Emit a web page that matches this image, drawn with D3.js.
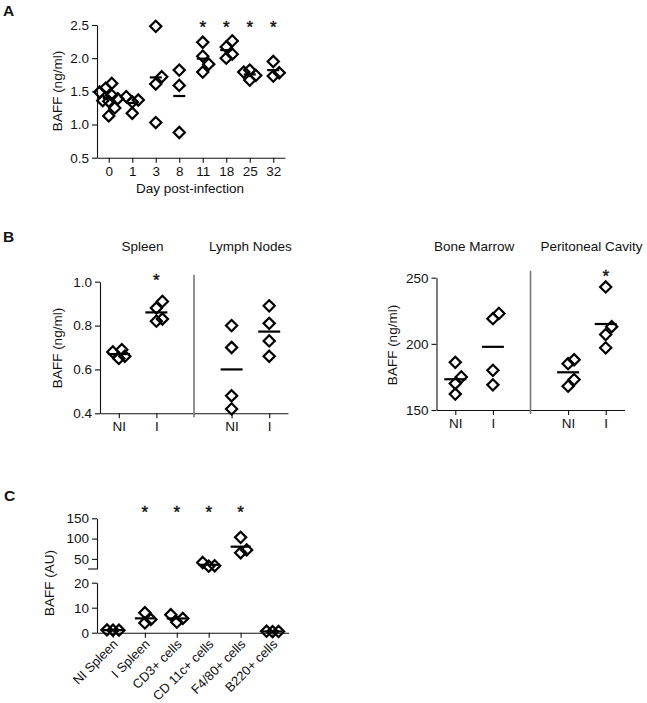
<!DOCTYPE html>
<html><head><meta charset="utf-8">
<script src="https://cdn.jsdelivr.net/npm/d3@7"></script>
<style>
body{margin:0;background:#fff;}
svg text{font-family:Arial,"Liberation Sans",sans-serif;fill:#111;}
</style></head><body>
<svg id="chart" width="647" height="703"></svg>
<script>
// ---------- DATA ----------
// Panel A: BAFF in serum over days post-infection
const daysA = ["0","1","3","8","11","18","25","32"];
const valuesA = [
  [1.36, 1.35, 1.39, 1.49, 1.62, 1.55, 1.44, 1.25, 1.13],
  [1.37, 1.42, 1.34, 1.17],
  [2.48, 1.72, 1.61, 1.03],
  [1.82, 1.59, 0.88],
  [2.24, 2.03, 1.91, 1.79],
  [2.17, 2.26, 2.06, 2.00],
  [1.79, 1.82, 1.74, 1.67],
  [1.95, 1.78, 1.73]
];
const sigA = ["11","18","25","32"];
const ticksA = [0.5, 1.0, 1.5, 2.0, 2.5];

// Panel B: organs, NI vs I
const groupsB = ["NI","I"];
const spleenNI = [0.68, 0.69, 0.66, 0.65];
const spleenI  = [0.91, 0.88, 0.83, 0.82];
const lymphNI  = [0.80, 0.70, 0.48, 0.42];
const lymphI   = [0.89, 0.81, 0.73, 0.66];
const ticksBL  = [0.4, 0.6, 0.8, 1.0];
const marrowNI = [186, 175, 170, 162];
const marrowI  = [219, 223, 180, 169];
const peritNI  = [188, 185, 173, 168];
const peritI   = [243, 213, 207, 197];
const ticksBR  = [150, 200, 250];
const titlesB  = ["Spleen","Lymph Nodes","Bone Marrow","Peritoneal Cavity"];

// Panel C: cell populations
const cellsC = ["NI Spleen","I Spleen","CD3+ cells","CD 11c+ cells","F4/80+ cells","B220+ cells"];
const valuesC = [
  [1.0, 1.1, 1.0],
  [8.0, 3.9, 5.3],
  [7.2, 4.2, 5.7],
  [41, 33, 32],
  [103, 72, 65],
  [0.5, 0.6, 0.4]
];
const sigC = ["I Spleen","CD3+ cells","CD 11c+ cells","F4/80+ cells"];
const ticksCLow = [0, 10, 20];
const ticksCHigh = [50, 100, 150];

// ---------- HELPERS ----------
const svg = d3.select("#chart");
const FS = 13.5;
const R = 5.6;
function diamond(r){ return `M0,${-r}L${r},0L0,${r}L${-r},0Z`; }

// compact dodge: spread overlapping points sideways, capped at +-maxOff
function dodge(vals, yf, thr=10, mind=6, step=3, maxOff=9){
  const order = vals.map((v,i)=>i).sort((a,b)=>vals[a]-vals[b]);
  const cands = [0];
  for(let s=step; s<=maxOff; s+=step){ cands.push(s, -s); }
  const placed = []; const off = new Array(vals.length);
  for(const i of order){
    const py = yf(vals[i]);
    let chosen = cands.find(c=>!placed.some(p=>Math.abs(p.y-py)<thr && Math.abs(p.x-c)<mind));
    if(chosen===undefined){
      let best=-1;
      for(const c of cands){
        const dmin = d3.min(placed, p=>Math.hypot(p.x-c, p.y-py));
        if(dmin>best){ best=dmin; chosen=c; }
      }
    }
    off[i]=chosen; placed.push({x:chosen,y:py});
  }
  return off;
}

function styleAxis(g){
  g.selectAll(".domain").attr("stroke","#111").attr("stroke-width",1.1);
  g.selectAll(".tick line").attr("stroke","#111").attr("stroke-width",1.1);
  g.selectAll(".tick text").attr("font-size",FS).attr("fill","#111")
    .attr("font-family","Arial, 'Liberation Sans', sans-serif");
}

function drawGroup(g, vals, cx, yf, lineW){
  const off = dodge(vals, yf);
  g.append("g").selectAll("path").data(vals).join("path")
    .attr("d", diamond(R))
    .attr("transform",(d,i)=>`translate(${cx+off[i]},${yf(d)})`)
    .attr("fill","none").attr("stroke","#000").attr("stroke-width",2.2)
    .attr("stroke-linejoin","miter");
  const m = d3.mean(vals);
  g.append("line").attr("x1",cx-lineW/2).attr("x2",cx+lineW/2)
    .attr("y1",yf(m)).attr("y2",yf(m)).attr("stroke","#000").attr("stroke-width",2.2);
}

function star(g, x, yCenter){
  g.append("text").attr("x",x).attr("y",yCenter+9.5).attr("text-anchor","middle")
    .attr("font-size",17).attr("stroke","#111").attr("stroke-width",0.4).text("*");
}

function yLabel(g, x, y, txt){
  g.append("text").attr("transform",`translate(${x},${y}) rotate(-90)`)
    .attr("text-anchor","middle").attr("font-size",FS).text(txt);
}

function panelLetter(x, y, t){
  svg.append("text").attr("x",x).attr("y",y).attr("font-size",15.5)
    .attr("font-weight","bold").text(t);
}

// ---------- PANEL A ----------
{
  const x0 = 97, x1 = 285, yTop = 25, yBot = 157.7;
  const xA = d3.scalePoint().domain(daysA).range([x0,x1]).padding(0.5);
  const yA = d3.scaleLinear().domain([0.5,2.5]).range([yBot,yTop]);
  const g = svg.append("g");
  g.append("g").attr("transform",`translate(${x0},0)`)
    .call(d3.axisLeft(yA).tickValues(ticksA).tickFormat(d3.format(".1f")).tickSize(5).tickPadding(3).tickSizeOuter(0))
    .call(styleAxis);
  g.append("g").attr("transform",`translate(0,${yBot})`)
    .call(d3.axisBottom(xA).tickSize(5).tickPadding(4).tickSizeOuter(0))
    .call(styleAxis);
  daysA.forEach((d,i)=>drawGroup(g, valuesA[i], xA(d), yA, 12));
  sigA.forEach(d=>star(g, xA(d), 23.5));
  yLabel(g, 62, 91, "BAFF (ng/ml)");
  g.append("text").attr("x",190).attr("y",192.5).attr("text-anchor","middle")
    .attr("font-size",FS).text("Day post-infection");
  panelLetter(3, 15.5, "A");
}

// ---------- PANEL B ----------
function panelB(opts){
  const {x0, x1, yTop, yBot, domain, ticks, fmt, groups, titles, titleK, starK, starY, labelX, labelY} = opts;
  const xs = d3.scaleLinear().domain([-0.5,4.5]).range([x0,x1]);
  const ys = d3.scaleLinear().domain(domain).range([yBot,yTop]);
  const g = svg.append("g");
  g.append("g").attr("transform",`translate(${x0},0)`)
    .call(d3.axisLeft(ys).tickValues(ticks).tickFormat(fmt).tickSize(5).tickPadding(3).tickSizeOuter(0))
    .call(styleAxis);
  const pos = [0,1,3,4];
  g.append("g").attr("transform",`translate(0,${yBot})`)
    .call(d3.axisBottom(xs).tickValues(pos).tickFormat((d,i)=>groupsB[i%2]).tickSize(5).tickPadding(3).tickSizeOuter(0))
    .call(styleAxis);
  // separator
  g.append("line").attr("x1",xs(2)).attr("x2",xs(2)).attr("y1",yTop-7).attr("y2",yBot+4)
    .attr("stroke","#777").attr("stroke-width",1.6);
  groups.forEach((vals,i)=>drawGroup(g, vals, xs(pos[i]), ys, 22));
  star(g, xs(starK), starY);
  titles.forEach((t,i)=>g.append("text").attr("x",xs(titleK[i])).attr("y",251)
    .attr("text-anchor","middle").attr("font-size",FS).text(t));
  yLabel(g, labelX, labelY, "BAFF (ng/ml)");
}
panelB({x0:100, x1:288, yTop:281.7, yBot:413.3, domain:[0.4,1.0], ticks:ticksBL, fmt:d3.format(".1f"),
  groups:[spleenNI, spleenI, lymphNI, lymphI], titles:[titlesB[0],titlesB[1]], titleK:[0.63,3.5],
  starK:1, starY:276.7, labelX:62, labelY:348});
panelB({x0:436.5, x1:624.5, yTop:277.7, yBot:410, domain:[150,250], ticks:ticksBR, fmt:d3.format("d"),
  groups:[marrowNI, marrowI, peritNI, peritI], titles:[titlesB[2],titlesB[3]], titleK:[0.5,3.62],
  starK:4, starY:272.3, labelX:397, labelY:345});
panelLetter(3, 242, "B");

// ---------- PANEL C ----------
{
  const x0 = 97, x1 = 288.5, yBot = 632.7;
  const xC = d3.scalePoint().domain(cellsC).range([x0,x1]).padding(0.5);
  const yLow = d3.scaleLinear().domain([0,20]).range([yBot,582.7]);
  const yHigh = d3.scaleLinear().domain([25,150]).range([569,518.3]);
  const yC = v => v <= 20 ? yLow(v) : yHigh(v);
  const g = svg.append("g");
  g.append("g").attr("transform",`translate(${x0},0)`)
    .call(d3.axisLeft(yLow).tickValues(ticksCLow).tickSize(5).tickPadding(3).tickSizeOuter(0))
    .call(styleAxis);
  g.append("g").attr("transform",`translate(${x0},0)`)
    .call(d3.axisLeft(yHigh).tickValues(ticksCHigh).tickSize(5).tickPadding(3).tickSizeOuter(0))
    .call(styleAxis);
  g.append("line").attr("x1",x0-9).attr("x2",x0).attr("y1",yHigh(25)).attr("y2",yHigh(25))
    .attr("stroke","#111").attr("stroke-width",1.1);
  const ax = g.append("g").attr("transform",`translate(0,${yBot})`)
    .call(d3.axisBottom(xC).tickSize(5).tickPadding(3).tickSizeOuter(0))
    .call(styleAxis);
  ax.selectAll(".tick text").attr("y",0).attr("dy","0.35em").attr("text-anchor","end")
    .attr("font-size",13).attr("transform","translate(2,9) rotate(-45)");
  cellsC.forEach((c,i)=>drawGroup(g, valuesC[i], xC(c), yC, 20));
  sigC.forEach(c=>star(g, xC(c), 508.3));
  yLabel(g, 54, 583, "BAFF (AU)");
  panelLetter(4, 501, "C");
}
</script>
</body></html>
